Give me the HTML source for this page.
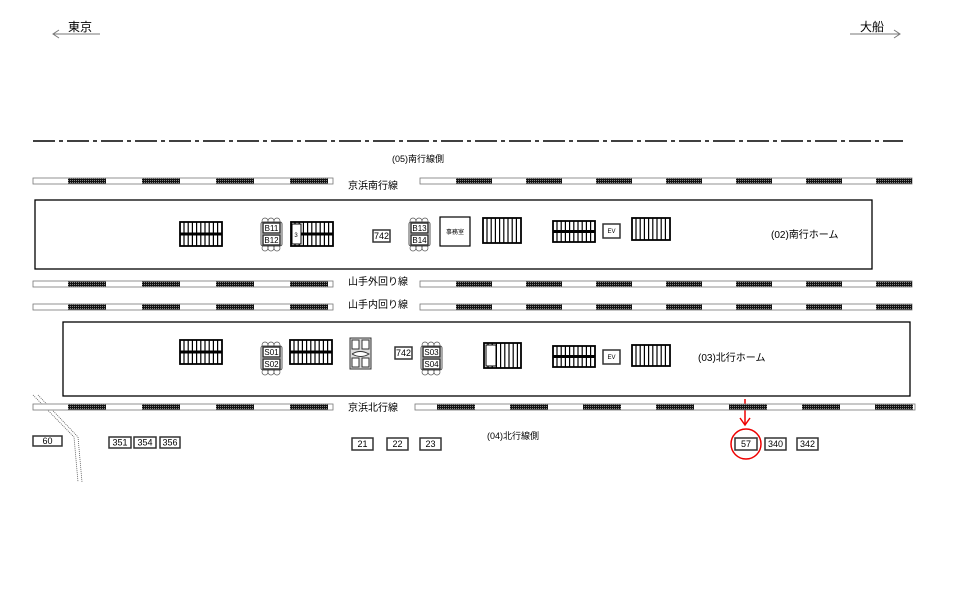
<!DOCTYPE html>
<html><head><meta charset="utf-8"><style>
html,body{margin:0;padding:0;background:#fff;}
svg{display:block;font-family:"Liberation Sans","Noto Sans CJK JP",sans-serif;}
</style></head><body>
<svg id="s" width="960" height="605" viewBox="0 0 960 605" xmlns="http://www.w3.org/2000/svg">
<defs>
<pattern id="chk" width="2" height="2" patternUnits="userSpaceOnUse"><rect width="2" height="2" fill="#111"/><rect width="1" height="1" fill="#888"/></pattern>
</defs>
<text x="68" y="31" font-size="12" fill="#000">東京</text>
<line x1="53" y1="34" x2="100" y2="34" stroke="#777" stroke-width="1"/>
<polyline points="59,30 53,34 59,38" fill="none" stroke="#777"/>
<text x="860" y="31" font-size="12" fill="#000">大船</text>
<line x1="850" y1="34" x2="900" y2="34" stroke="#777" stroke-width="1"/>
<polyline points="894,30 900,34 894,38" fill="none" stroke="#777"/>
<line x1="33" y1="141" x2="903" y2="141" stroke="#000" stroke-width="1.5" stroke-dasharray="22,4,4,4"/>
<text x="392" y="162" font-size="9">(05)南行線側</text>
<text x="348" y="189" font-size="10">京浜南行線</text>
<text x="348" y="285" font-size="10">山手外回り線</text>
<text x="348" y="308" font-size="10">山手内回り線</text>
<text x="348" y="411" font-size="10">京浜北行線</text>
<text x="487" y="439" font-size="9">(04)北行線側</text>
<rect x="35" y="200" width="837" height="69" fill="none" stroke="#000" stroke-width="1.3"/>
<rect x="63" y="322" width="847" height="74" fill="none" stroke="#000" stroke-width="1.3"/>
<text x="771" y="238" font-size="10">(02)南行ホーム</text>
<text x="698" y="361" font-size="10">(03)北行ホーム</text>
<rect x="440" y="217" width="30" height="29" fill="#fff" stroke="#000" stroke-width="1.2"/>
<text x="455" y="234" font-size="6" text-anchor="middle">事務室</text>
<line x1="745" y1="399" x2="745" y2="424" stroke="#e00" stroke-width="1.5"/>
<polyline points="740,418 745,425 750,418" fill="none" stroke="#e00" stroke-width="1.5"/>
<circle cx="746" cy="444" r="15" fill="none" stroke="#e00" stroke-width="1.5"/>
<polyline points="33,395 74,437 78,482" fill="none" stroke="#555" stroke-width="0.8" stroke-dasharray="1,1"/>
<polyline points="38,395 78,437 82,482" fill="none" stroke="#555" stroke-width="0.8" stroke-dasharray="1,1"/>
<g id="g"></g>
</svg>
<script>
var g=document.getElementById('g'),h='';
function rail(y,x1,x2,start,per,w){h+='<rect x="'+x1+'" y="'+y+'" width="'+(x2-x1)+'" height="6" fill="#fff" stroke="#777" stroke-width="0.8"/>';
for(var x=start;x<x2;x+=per){var e=Math.min(x+w,x2);h+='<rect x="'+x+'" y="'+(y+0.5)+'" width="'+(e-x)+'" height="5" fill="url(#chk)"/>';}}
rail(178,33,333,68,74,38);rail(178,420,912,456,70,36);
rail(281,33,333,68,74,38);rail(281,420,912,456,70,36);
rail(304,33,333,68,74,38);rail(304,420,912,456,70,36);
rail(404,33,333,68,74,38);rail(404,415,915,437,73,38);
function stair(x,y,w,hh,dbl){h+='<rect x="'+x+'" y="'+y+'" width="'+w+'" height="'+hh+'" fill="#fff" stroke="#000" stroke-width="1.8"/>';
for(var i=x+4;i<x+w-2;i+=4.2)h+='<line x1="'+i+'" y1="'+y+'" x2="'+i+'" y2="'+(y+hh)+'" stroke="#000" stroke-width="1.2"/>';
if(dbl)h+='<rect x="'+x+'" y="'+(y+hh/2-1.5)+'" width="'+w+'" height="3" fill="#000"/>';}
stair(180,222,42,24,1);stair(291,222,42,24,1);stair(483,218,38,25,0);stair(553,221,42,21,1);stair(632,218,38,22,0);
stair(180,340,42,24,1);stair(290,340,42,24,1);stair(484,343,37,25,0);stair(553,346,42,21,1);stair(632,345,38,21,0);
h+='<rect x="292" y="224" width="9" height="20" fill="#fff" stroke="#000"/><text x="296" y="237" font-size="6" text-anchor="middle">3</text>';
h+='<rect x="486" y="345" width="10" height="21" fill="#fff" stroke="#000"/>';
function lbox(x,y,w,hh,t,fs){h+='<rect x="'+x+'" y="'+y+'" width="'+w+'" height="'+hh+'" fill="#fff" stroke="#333" stroke-width="1.5"/><text x="'+(x+w/2)+'" y="'+(y+hh/2+fs*0.36)+'" font-size="'+fs+'" text-anchor="middle">'+t+'</text>';}
lbox(373,230,17,12,'742',9);lbox(395,347,17,12,'742',9);
lbox(603,224,17,14,'EV',6);lbox(603,350,17,14,'EV',6);
function pair(x,y,a,b){for(var k=0;k<3;k++){h+='<circle cx="'+(x+4+k*6)+'" cy="'+(y+3)+'" r="3" fill="#fff" stroke="#555" stroke-width="0.7"/><circle cx="'+(x+4+k*6)+'" cy="'+(y+30)+'" r="3" fill="#fff" stroke="#555" stroke-width="0.7"/>';}
h+='<rect x="'+x+'" y="'+(y+4)+'" width="21" height="24" rx="2" fill="#fff" stroke="#555"/>';
lbox(x+2,y+5,17,10,a,8);lbox(x+2,y+17,17,10,b,8);}
pair(261,218,'B11','B12');pair(409,218,'B13','B14');pair(261,342,'S01','S02');pair(421,342,'S03','S04');
h+='<rect x="350" y="338" width="21" height="31" fill="#ddd" stroke="#333"/><rect x="352" y="340" width="7" height="9" fill="#fff" stroke="#333"/><rect x="362" y="340" width="7" height="9" fill="#fff" stroke="#333"/><rect x="352" y="358" width="7" height="9" fill="#fff" stroke="#333"/><rect x="362" y="358" width="7" height="9" fill="#fff" stroke="#333"/><path d="M352,354 q8,-5 17,0 q-8,5 -17,0" fill="#fff" stroke="#333"/>';
[[33,436,29,10,'60'],[109,437,22,11,'351'],[134,437,22,11,'354'],[160,437,20,11,'356'],[352,438,21,12,'21'],[387,438,21,12,'22'],[420,438,21,12,'23'],[735,438,22,12,'57'],[765,438,21,12,'340'],[797,438,21,12,'342']].forEach(function(b){lbox(b[0],b[1],b[2],b[3],b[4],9);});
g.innerHTML=h;
</script>
</body></html>
